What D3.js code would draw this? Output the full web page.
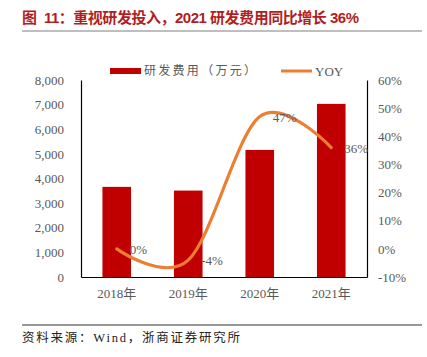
<!DOCTYPE html>
<html><head><meta charset="utf-8">
<script src="https://cdn.jsdelivr.net/npm/d3@7"></script>
<style>body{margin:0;background:#fff}</style>
</head><body>
<svg id="c" width="427" height="357"></svg>
<script>
const categories = ["2018年","2019年","2020年","2021年"];
const rdExpense = [3660, 3510, 5160, 7030];
const yoy = [0, -4, 47, 36];
const yoyLabels = ["0%","-4%","47%","36%"];
const leftTicks = [0,1000,2000,3000,4000,5000,6000,7000,8000];
const rightTicks = [-10,0,10,20,30,40,50,60];

const svg = d3.select("#c");
const serif = "'Liberation Serif','Times New Roman',serif";
const cjk = "'Liberation Serif','Noto Sans CJK SC',serif";
const m = {l:81, r:367, t:80, b:277};

svg.append("text").attr("x",22).attr("y",23)
  .attr("font-family","'Liberation Sans','Noto Sans CJK SC',sans-serif").attr("font-weight","bold")
  .attr("font-size",15).attr("fill","#B01E23")
  .attr("textLength",337).attr("lengthAdjust","spacing")
  .text("图\u00a0\u00a011：重视研发投入，2021 研发费用同比增长 36%");
svg.append("line").attr("x1",22).attr("x2",422).attr("y1",31).attr("y2",31).attr("stroke","#7f7f7f").attr("stroke-width",1.2);

const x = d3.scaleBand().domain(categories).range([m.l,m.r]).paddingInner(0.6).paddingOuter(0.3);
const y = d3.scaleLinear().domain([0,8000]).range([m.b,m.t]);
const y2 = d3.scaleLinear().domain([-10,60]).range([m.b,m.t]);

svg.selectAll("rect.bar").data(rdExpense).enter().append("rect").attr("class","bar")
  .attr("x",(d,i)=>x(categories[i])).attr("width",x.bandwidth())
  .attr("y",d=>y(d)).attr("height",d=>m.b-y(d)).attr("fill","#C00000");

const la = svg.append("g").attr("transform",`translate(${m.l},0)`)
  .call(d3.axisLeft(y).tickValues(leftTicks).tickFormat(d3.format(",")).tickSize(0).tickPadding(17));
const ra = svg.append("g").attr("transform",`translate(${m.r},0)`)
  .call(d3.axisRight(y2).tickValues(rightTicks).tickFormat(d=>d+"%").tickSize(0).tickPadding(11));
const ba = svg.append("g").attr("transform",`translate(0,${m.b})`)
  .call(d3.axisBottom(x).tickSize(0).tickPadding(12));
[la,ra,ba].forEach(g=>{
  g.select(".domain").attr("stroke","#000").attr("stroke-width",1.2);
  g.selectAll("text").attr("font-family",cjk).attr("font-size",13).attr("fill","#595959");
});

const lx = (d,i)=>x(categories[i])+x.bandwidth()/2;
const line = d3.line().x(lx).y(d=>y2(d)).curve(d3.curveCardinal.tension(0));
svg.append("path").datum(yoy).attr("d",line).attr("fill","none")
  .attr("stroke","#ED7D31").attr("stroke-width",3.2).attr("stroke-linecap","round");

svg.selectAll("text.lbl").data(yoy).enter().append("text").attr("class","lbl")
  .attr("x",(d,i)=>lx(d,i)+13).attr("y",d=>y2(d)+5)
  .attr("font-family",serif).attr("font-size",13).attr("fill","#595959")
  .text((d,i)=>yoyLabels[i]);

// legend
svg.append("rect").attr("x",110).attr("y",68).attr("width",31).attr("height",6).attr("fill","#C00000");
svg.append("text").attr("x",144).attr("y",75).attr("font-family",cjk).attr("font-size",12).attr("fill","#595959")
  .attr("textLength",112).attr("lengthAdjust","spacing").text("研发费用（万元）");
svg.append("line").attr("x1",281).attr("x2",312).attr("y1",71).attr("y2",71).attr("stroke","#ED7D31").attr("stroke-width",3);
svg.append("text").attr("x",315).attr("y",76).attr("font-family",serif).attr("font-size",13).attr("fill","#595959").text("YOY");

svg.append("line").attr("x1",22).attr("x2",422).attr("y1",325).attr("y2",325).attr("stroke","#333").attr("stroke-width",1.2);
svg.append("text").attr("x",22).attr("y",342).attr("font-family",cjk).attr("font-size",12.5).attr("fill","#222")
  .attr("textLength",218).attr("lengthAdjust","spacing").text("资料来源：Wind，浙商证券研究所");
</script>
</body></html>
